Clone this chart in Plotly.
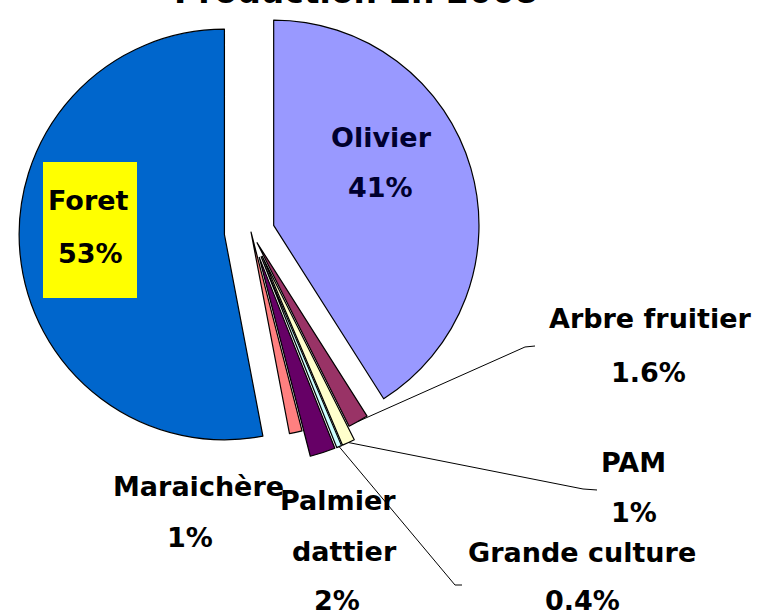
import math
import plotly.graph_objects as go

# ---------------- data ----------------
labels = ["Olivier", "Arbre fruitier", "PAM", "Grande culture",
          "Palmier dattier", "Maraichère", "Foret"]
values = [41, 1.6, 1, 0.4, 2, 1, 53]
pct_labels = [f"{v:g}%" for v in values]
title_text = "Production En 2008"

# ---------------- styles / layout ----------------
colors = ["#9999FF", "#993366", "#FFFFCC", "#CCFFFF", "#660066", "#FF8080", "#0066CC"]
pulls = [0.115, 0.06, 0.13, 0.13, 0.13, 0.0, 0.13]

W, H = 763, 616
CX, CY, HALF = 251, 232, 232          # pie domain centre / half size (px)
FONT = "DejaVu Sans"
FS = 27

dom_x = [(CX - HALF) / W, (CX + HALF) / W]
dom_y = [1 - (CY + HALF) / H, 1 - (CY - HALF) / H]

# text line positions (px centres): name line(s) then percentage
line_split = {"Palmier dattier": ["Palmier", "dattier"]}
text_pos = {
    "Olivier": [(381, 137), (380, 187)],
    "Arbre fruitier": [(650, 318), (648, 372)],
    "PAM": [(633, 462), (634, 512)],
    "Grande culture": [(582, 552), (582, 600)],
    "Palmier dattier": [(338, 500), (344, 551), (337, 600)],
    "Maraichère": [(199, 486), (190, 537)],
    "Foret": [(88, 200), (90, 253)],
}
text_color = {"Olivier": "#00002e"}
foret_box = (43, 162, 137, 298)
# leader line waypoints after the slice anchor (px)
leaders = {
    "Arbre fruitier": [(525, 347), (535, 346)],
    "PAM": [(583, 489), (597, 490)],
    "Grande culture": [(455, 585), (462, 585)],
}


def px(x):
    return x / W


def py(y):
    return 1 - y / H


fig = go.Figure(go.Pie(
    labels=labels, values=values, sort=False, direction="clockwise", rotation=0,
    pull=pulls, marker=dict(colors=colors, line=dict(color="black", width=1.2)),
    textinfo="none", hoverinfo="label+percent", showlegend=False,
    domain=dict(x=dom_x, y=dom_y),
))

# pie geometry (same as plotly's own layout of the trace)
r = HALF / (1 + max(pulls))
total = sum(values)
anchors = {}
cum = 0.0
for lab, v, p in zip(labels, values, pulls):
    th = 2 * math.pi * (cum + v / 2) / total
    rr = r * (1 + p)
    anchors[lab] = (CX + rr * math.sin(th), CY - rr * math.cos(th))
    cum += v

shapes = [dict(type="rect", xref="paper", yref="paper",
               x0=px(foret_box[0]), x1=px(foret_box[2]),
               y0=py(foret_box[3]), y1=py(foret_box[1]),
               fillcolor="#FFFF00", line=dict(width=0), layer="above")]
for lab, pts in leaders.items():
    allp = [anchors[lab]] + pts
    path = "M " + " L ".join(f"{px(x):.5f},{py(y):.5f}" for x, y in allp)
    shapes.append(dict(type="path", xref="paper", yref="paper", path=path,
                       line=dict(color="black", width=1), layer="above"))

annotations = []
for lab, pct in zip(labels, pct_labels):
    lines = line_split.get(lab, [lab]) + [pct]
    for t, (x, y) in zip(lines, text_pos[lab]):
        annotations.append(dict(
            text=t, x=px(x), y=py(y), xref="paper", yref="paper",
            xanchor="center", yanchor="middle", showarrow=False,
            font=dict(family=FONT, size=FS, color=text_color.get(lab, "black"),
                      weight="bold")))

annotations.append(dict(
    text=title_text, x=px(356), y=1, xref="paper", yref="paper",
    xanchor="center", yanchor="bottom", yshift=-13, showarrow=False,
    font=dict(family=FONT, size=33, color="black", weight="bold")))

fig.update_layout(
    width=W, height=H, margin=dict(l=0, r=0, t=0, b=0),
    paper_bgcolor="white", plot_bgcolor="white",
    shapes=shapes, annotations=annotations,
)
fig.write_html("out.html", config={"displayModeBar": False},
               post_script="document.body.style.margin='0';document.body.style.overflow='hidden';")
